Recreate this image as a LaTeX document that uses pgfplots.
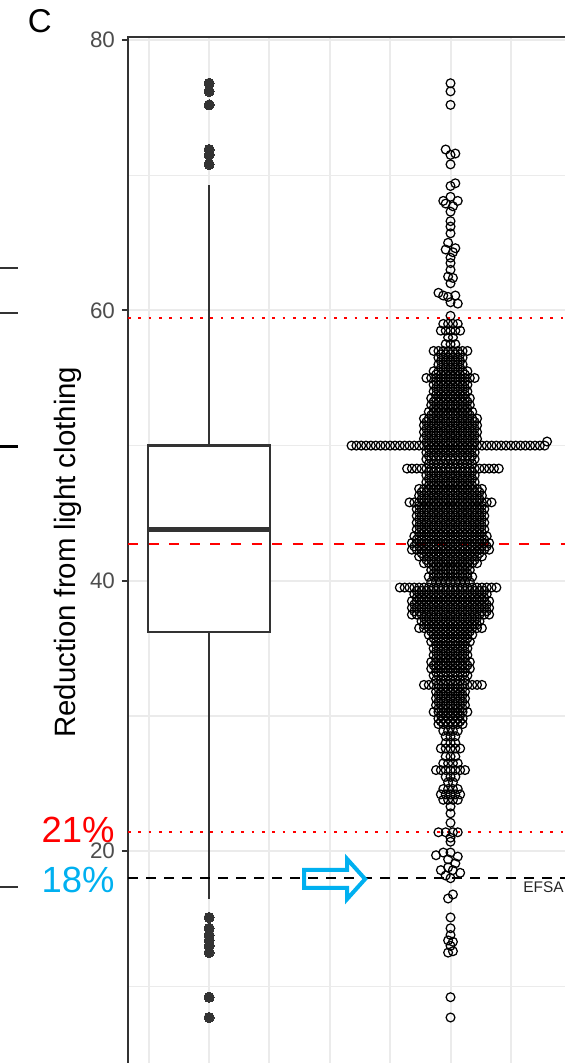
\documentclass[border=0pt]{standalone}
\usepackage{pgfplots}
\pgfplotsset{compat=1.18}
\usepackage{fontspec}
\setmainfont{Liberation Sans}
\definecolor{gridc}{HTML}{EBEBEB}
\definecolor{frame}{HTML}{333333}
\definecolor{ticklab}{HTML}{4D4D4D}
\definecolor{ecyan}{HTML}{00B0F0}
\definecolor{ered}{HTML}{FF0000}
\pgfplotsset{swarm/.style={only marks, mark=o, mark size=2.2pt, mark options={draw=black, line width=0.62pt}}}
\begin{document}
\begin{tikzpicture}
\useasboundingbox (0,0) rectangle (282.5pt,531.5pt);
\clip (0,0) rectangle (282.5pt,531.5pt);
\begin{axis}[
  at={(64pt,-2.26pt)}, anchor=south west,
  x=120.7pt, y=6.76pt,
  xmin=0.664, xmax=2.8, ymin=4.0, ymax=80.24,
  axis line style={draw=frame, line width=1pt},
  xtick={0.75,1,...,2.75}, xticklabels={},
  ytick={20,40,60,80}, minor ytick={10,30,50,70},
  tick pos=left,
  grid=both,
  major grid style={gridc, line width=1pt},
  minor grid style={gridc, line width=0.6pt},
  tick align=outside, major tick length=3pt, minor tick length=0pt,
  tick style={frame, line width=1pt},
  /pgf/number format/assume math mode=true,
  yticklabel style={font=\fontsize{11.2}{13}\selectfont, text=ticklab},
  ylabel={Reduction from light clothing},
  ylabel style={at={(axis description cs:-0.1164,0.5)}, anchor=center, font=\fontsize{14.7}{17}\selectfont},
]
% boxplot: whiskers, box (quartiles), median, outliers
\addplot[frame, line width=1pt] coordinates {(1,50.0) (1,69.3)};
\addplot[frame, line width=1pt] coordinates {(1,36.2) (1,16.5)};
\addplot[draw=frame, fill=white, line width=1.1pt, line join=miter] coordinates {(0.7473,36.2) (1.2527,36.2) (1.2527,50.0) (0.7473,50.0) (0.7473,36.2)} -- cycle;
\addplot[frame, line width=2.2pt] coordinates {(0.7473,43.8) (1.2527,43.8)};
\addplot[only marks, mark=*, mark size=2.55pt, mark options={fill=frame, draw=frame, line width=0pt}] coordinates {
(1,76.8)(1,76.2)(1,75.2)(1,71.9)(1,71.5)(1,70.8)(1,15.1)(1,14.3)(1,13.8)(1,13.4)(1,13.0)(1,12.5)(1,9.2)(1,7.7)};
% dot swarm (main rows)
\addplot[swarm] coordinates {
(2,76.8)(2,76.2)(2,75.2)
(1.98,71.9)(2,71.5)(2.02,71.6)(2,70.8)
(2.02,69.4)(2,69.2)
(1.97,68.1)(2,68.4)(2.03,68.1)(1.98,67.9)(2.01,67.7)(2,67.3)
(2,66.6)(2,66.2)(2,65.7)
(1.99,65.0)(2.02,64.6)(1.98,64.5)(2.01,64.3)
(2,63.9)(2,63.5)
(2,63.0)(1.99,62.5)(2.01,62.4)
(2,62.0)
(1.95,61.3)(1.97,61.1)(1.99,61.0)(2.02,61.1)(2,60.6)(2.03,60.5)
(2,59.6)
(1.97,59)(1.99,59)(2.01,59)(2.03,59)
(1.96,58.5)(1.98,58.5)(2,58.5)(2.02,58.5)(2.04,58.5)
(1.99,58)(2.01,58)
(1.98,57.5)(2,57.5)(2.02,57.5)
(1.93,57)(1.95,57)(1.97,57)(1.99,57)(2.01,57)(2.03,57)(2.05,57)(2.07,57)
(1.95,56.5)(1.97,56.5)(1.99,56.5)(2.01,56.5)(2.03,56.5)(2.05,56.5)
(1.95,56)(1.97,56)(1.99,56)(2.01,56)(2.03,56)(2.05,56)
(1.93,55.5)(1.95,55.5)(1.97,55.5)(1.99,55.5)(2.01,55.5)(2.03,55.5)(2.05,55.5)(2.07,55.5)
(1.9,55)(1.92,55)(1.94,55)(1.96,55)(1.98,55)(2,55)(2.02,55)(2.04,55)(2.06,55)(2.08,55)(2.1,55)
(1.93,54.5)(1.95,54.5)(1.97,54.5)(1.99,54.5)(2.01,54.5)(2.03,54.5)(2.05,54.5)(2.07,54.5)
(1.93,54)(1.95,54)(1.97,54)(1.99,54)(2.01,54)(2.03,54)(2.05,54)(2.07,54)
(1.92,53.5)(1.94,53.5)(1.96,53.5)(1.98,53.5)(2,53.5)(2.02,53.5)(2.04,53.5)(2.06,53.5)(2.08,53.5)
(1.92,53)(1.94,53)(1.96,53)(1.98,53)(2,53)(2.02,53)(2.04,53)(2.06,53)(2.08,53)
(1.91,52.5)(1.93,52.5)(1.95,52.5)(1.97,52.5)(1.99,52.5)(2.01,52.5)(2.03,52.5)(2.05,52.5)(2.07,52.5)(2.09,52.5)
(1.89,52)(1.91,52)(1.93,52)(1.95,52)(1.97,52)(1.99,52)(2.01,52)(2.03,52)(2.05,52)(2.07,52)(2.09,52)(2.11,52)
(1.89,51.5)(1.91,51.5)(1.93,51.5)(1.95,51.5)(1.97,51.5)(1.99,51.5)(2.01,51.5)(2.03,51.5)(2.05,51.5)(2.07,51.5)(2.09,51.5)(2.11,51.5)
(1.89,51)(1.91,51)(1.93,51)(1.95,51)(1.97,51)(1.99,51)(2.01,51)(2.03,51)(2.05,51)(2.07,51)(2.09,51)(2.11,51)
(1.89,50.5)(1.91,50.5)(1.93,50.5)(1.95,50.5)(1.97,50.5)(1.99,50.5)(2.01,50.5)(2.03,50.5)(2.05,50.5)(2.07,50.5)(2.09,50.5)(2.11,50.5)
(1.59,50)(1.61,50)(1.63,50)(1.65,50)(1.67,50)(1.69,50)(1.71,50)(1.73,50)(1.75,50)(1.77,50)(1.79,50)(1.81,50)(1.83,50)(1.85,50)(1.87,50)(1.89,50)(1.91,50)(1.93,50)(1.95,50)(1.97,50)(1.99,50)(2.01,50)(2.03,50)(2.05,50)(2.07,50)(2.09,50)(2.11,50)(2.13,50)(2.15,50)(2.17,50)(2.19,50)(2.21,50)(2.23,50)(2.25,50)(2.27,50)(2.29,50)(2.31,50)(2.33,50)(2.35,50)(2.37,50)(2.39,50)(2.4,50.3)
(1.9,49.5)(1.92,49.5)(1.94,49.5)(1.96,49.5)(1.98,49.5)(2,49.5)(2.02,49.5)(2.04,49.5)(2.06,49.5)(2.08,49.5)(2.1,49.5)
(1.9,49)(1.92,49)(1.94,49)(1.96,49)(1.98,49)(2,49)(2.02,49)(2.04,49)(2.06,49)(2.08,49)(2.1,49)
(1.82,48.3)(1.84,48.3)(1.86,48.3)(1.88,48.3)(1.9,48.3)(1.92,48.3)(1.94,48.3)(1.96,48.3)(1.98,48.3)(2,48.3)(2.02,48.3)(2.04,48.3)(2.06,48.3)(2.08,48.3)(2.1,48.3)(2.12,48.3)(2.14,48.3)(2.16,48.3)(2.18,48.3)(2.2,48.3)
(1.9,47.8)(1.92,47.8)(1.94,47.8)(1.96,47.8)(1.98,47.8)(2,47.8)(2.02,47.8)(2.04,47.8)(2.06,47.8)(2.08,47.8)(2.1,47.8)
(1.9,47.3)(1.92,47.3)(1.94,47.3)(1.96,47.3)(1.98,47.3)(2,47.3)(2.02,47.3)(2.04,47.3)(2.06,47.3)(2.08,47.3)(2.1,47.3)
(1.87,46.8)(1.89,46.8)(1.91,46.8)(1.93,46.8)(1.95,46.8)(1.97,46.8)(1.99,46.8)(2.01,46.8)(2.03,46.8)(2.05,46.8)(2.07,46.8)(2.09,46.8)(2.11,46.8)(2.13,46.8)
(1.87,46.3)(1.89,46.3)(1.91,46.3)(1.93,46.3)(1.95,46.3)(1.97,46.3)(1.99,46.3)(2.01,46.3)(2.03,46.3)(2.05,46.3)(2.07,46.3)(2.09,46.3)(2.11,46.3)(2.13,46.3)
(1.83,45.8)(1.85,45.8)(1.87,45.8)(1.89,45.8)(1.91,45.8)(1.93,45.8)(1.95,45.8)(1.97,45.8)(1.99,45.8)(2.01,45.8)(2.03,45.8)(2.05,45.8)(2.07,45.8)(2.09,45.8)(2.11,45.8)(2.13,45.8)(2.15,45.8)(2.17,45.8)
(1.86,45.3)(1.88,45.3)(1.9,45.3)(1.92,45.3)(1.94,45.3)(1.96,45.3)(1.98,45.3)(2,45.3)(2.02,45.3)(2.04,45.3)(2.06,45.3)(2.08,45.3)(2.1,45.3)(2.12,45.3)(2.14,45.3)
(1.86,44.8)(1.88,44.8)(1.9,44.8)(1.92,44.8)(1.94,44.8)(1.96,44.8)(1.98,44.8)(2,44.8)(2.02,44.8)(2.04,44.8)(2.06,44.8)(2.08,44.8)(2.1,44.8)(2.12,44.8)(2.14,44.8)
(1.86,44.3)(1.88,44.3)(1.9,44.3)(1.92,44.3)(1.94,44.3)(1.96,44.3)(1.98,44.3)(2,44.3)(2.02,44.3)(2.04,44.3)(2.06,44.3)(2.08,44.3)(2.1,44.3)(2.12,44.3)(2.14,44.3)
(1.86,43.8)(1.88,43.8)(1.9,43.8)(1.92,43.8)(1.94,43.8)(1.96,43.8)(1.98,43.8)(2,43.8)(2.02,43.8)(2.04,43.8)(2.06,43.8)(2.08,43.8)(2.1,43.8)(2.12,43.8)(2.14,43.8)
(1.85,43.3)(1.87,43.3)(1.89,43.3)(1.91,43.3)(1.93,43.3)(1.95,43.3)(1.97,43.3)(1.99,43.3)(2.01,43.3)(2.03,43.3)(2.05,43.3)(2.07,43.3)(2.09,43.3)(2.11,43.3)(2.13,43.3)(2.15,43.3)
(1.84,42.8)(1.86,42.8)(1.88,42.8)(1.9,42.8)(1.92,42.8)(1.94,42.8)(1.96,42.8)(1.98,42.8)(2,42.8)(2.02,42.8)(2.04,42.8)(2.06,42.8)(2.08,42.8)(2.1,42.8)(2.12,42.8)(2.14,42.8)(2.16,42.8)
(1.84,42.3)(1.86,42.3)(1.88,42.3)(1.9,42.3)(1.92,42.3)(1.94,42.3)(1.96,42.3)(1.98,42.3)(2,42.3)(2.02,42.3)(2.04,42.3)(2.06,42.3)(2.08,42.3)(2.1,42.3)(2.12,42.3)(2.14,42.3)(2.16,42.3)
(1.87,41.8)(1.89,41.8)(1.91,41.8)(1.93,41.8)(1.95,41.8)(1.97,41.8)(1.99,41.8)(2.01,41.8)(2.03,41.8)(2.05,41.8)(2.07,41.8)(2.09,41.8)(2.11,41.8)(2.13,41.8)
(1.89,41.3)(1.91,41.3)(1.93,41.3)(1.95,41.3)(1.97,41.3)(1.99,41.3)(2.01,41.3)(2.03,41.3)(2.05,41.3)(2.07,41.3)(2.09,41.3)(2.11,41.3)
(1.92,40.8)(1.94,40.8)(1.96,40.8)(1.98,40.8)(2,40.8)(2.02,40.8)(2.04,40.8)(2.06,40.8)(2.08,40.8)
(1.91,40.3)(1.93,40.3)(1.95,40.3)(1.97,40.3)(1.99,40.3)(2.01,40.3)(2.03,40.3)(2.05,40.3)(2.07,40.3)(2.09,40.3)
(1.79,39.5)(1.81,39.5)(1.83,39.5)(1.85,39.5)(1.87,39.5)(1.89,39.5)(1.91,39.5)(1.93,39.5)(1.95,39.5)(1.97,39.5)(1.99,39.5)(2.01,39.5)(2.03,39.5)(2.05,39.5)(2.07,39.5)(2.09,39.5)(2.11,39.5)(2.13,39.5)(2.15,39.5)(2.17,39.5)(2.19,39.5)
(1.85,39)(1.87,39)(1.89,39)(1.91,39)(1.93,39)(1.95,39)(1.97,39)(1.99,39)(2.01,39)(2.03,39)(2.05,39)(2.07,39)(2.09,39)(2.11,39)(2.13,39)(2.15,39)
(1.84,38.5)(1.86,38.5)(1.88,38.5)(1.9,38.5)(1.92,38.5)(1.94,38.5)(1.96,38.5)(1.98,38.5)(2,38.5)(2.02,38.5)(2.04,38.5)(2.06,38.5)(2.08,38.5)(2.1,38.5)(2.12,38.5)(2.14,38.5)(2.16,38.5)
(1.84,38)(1.86,38)(1.88,38)(1.9,38)(1.92,38)(1.94,38)(1.96,38)(1.98,38)(2,38)(2.02,38)(2.04,38)(2.06,38)(2.08,38)(2.1,38)(2.12,38)(2.14,38)(2.16,38)
(1.84,37.5)(1.86,37.5)(1.88,37.5)(1.9,37.5)(1.92,37.5)(1.94,37.5)(1.96,37.5)(1.98,37.5)(2,37.5)(2.02,37.5)(2.04,37.5)(2.06,37.5)(2.08,37.5)(2.1,37.5)(2.12,37.5)(2.14,37.5)(2.16,37.5)
(1.88,37)(1.9,37)(1.92,37)(1.94,37)(1.96,37)(1.98,37)(2,37)(2.02,37)(2.04,37)(2.06,37)(2.08,37)(2.1,37)(2.12,37)
(1.87,36.5)(1.89,36.5)(1.91,36.5)(1.93,36.5)(1.95,36.5)(1.97,36.5)(1.99,36.5)(2.01,36.5)(2.03,36.5)(2.05,36.5)(2.07,36.5)(2.09,36.5)(2.11,36.5)(2.13,36.5)
(1.91,36)(1.93,36)(1.95,36)(1.97,36)(1.99,36)(2.01,36)(2.03,36)(2.05,36)(2.07,36)(2.09,36)
(1.92,35.5)(1.94,35.5)(1.96,35.5)(1.98,35.5)(2,35.5)(2.02,35.5)(2.04,35.5)(2.06,35.5)(2.08,35.5)
(1.93,35)(1.95,35)(1.97,35)(1.99,35)(2.01,35)(2.03,35)(2.05,35)(2.07,35)
(1.93,34.5)(1.95,34.5)(1.97,34.5)(1.99,34.5)(2.01,34.5)(2.03,34.5)(2.05,34.5)(2.07,34.5)
(1.92,34)(1.94,34)(1.96,34)(1.98,34)(2,34)(2.02,34)(2.04,34)(2.06,34)(2.08,34)
(1.92,33.5)(1.94,33.5)(1.96,33.5)(1.98,33.5)(2,33.5)(2.02,33.5)(2.04,33.5)(2.06,33.5)(2.08,33.5)
(1.93,33)(1.95,33)(1.97,33)(1.99,33)(2.01,33)(2.03,33)(2.05,33)(2.07,33)
(1.89,32.3)(1.91,32.3)(1.93,32.3)(1.95,32.3)(1.97,32.3)(1.99,32.3)(2.01,32.3)(2.03,32.3)(2.05,32.3)(2.07,32.3)(2.09,32.3)(2.11,32.3)(2.13,32.3)
(1.94,31.8)(1.96,31.8)(1.98,31.8)(2,31.8)(2.02,31.8)(2.04,31.8)(2.06,31.8)
(1.94,31.3)(1.96,31.3)(1.98,31.3)(2,31.3)(2.02,31.3)(2.04,31.3)(2.06,31.3)
(1.94,30.8)(1.96,30.8)(1.98,30.8)(2,30.8)(2.02,30.8)(2.04,30.8)(2.06,30.8)
(1.93,30.3)(1.95,30.3)(1.97,30.3)(1.99,30.3)(2.01,30.3)(2.03,30.3)(2.05,30.3)(2.07,30.3)
(1.95,29.8)(1.97,29.8)(1.99,29.8)(2.01,29.8)(2.03,29.8)(2.05,29.8)
(1.95,29.4)(1.97,29.4)(1.99,29.4)(2.01,29.4)(2.03,29.4)(2.05,29.4)
(1.97,28.9)(1.99,28.9)(2.01,28.9)(2.03,28.9)
(1.98,28.5)(2,28.5)(2.02,28.5)
(1.98,28)(2,28)(2.02,28)
(1.96,27.6)(1.98,27.6)(2,27.6)(2.02,27.6)(2.04,27.6)
(1.98,27)(2,27)(2.02,27)
(1.97,26.5)(1.99,26.5)(2.01,26.5)(2.03,26.5)
(1.94,26)(1.96,26)(1.98,26)(2,26)(2.02,26)(2.04,26)(2.06,26)
(1.98,25.5)(2,25.5)(2.02,25.5)
(1.99,25.1)(2.01,25.1)
(1.97,24.6)(1.99,24.6)(2.01,24.6)(2.03,24.6)
(1.96,24.2)(1.98,24.2)(2,24.2)(2.02,24.2)(2.04,24.2)
(1.97,23.8)(1.99,23.8)(2.01,23.8)(2.03,23.8)
(2,23.3)(2,22.8)(2,22.1)
(1.95,21.4)(1.98,21.4)(2.01,21.4)(2.03,21.4)
(2,21)(2,20.7)
(1.97,19.9)(2,19.9)(1.94,19.7)(2.03,19.6)(1.99,19.4)(2.02,19.1)
(1.96,18.6)(1.99,18.8)(2.01,18.6)(2.04,18.4)(1.98,18.2)(2,18.0)
(1.99,16.5)(2.01,16.8)
(2,15.1)(2,14.3)(2,13.8)(1.99,13.4)(2.01,13.3)(2,13)(1.99,12.5)(2.01,12.6)(2,9.2)(2,7.7)
};
% dot swarm (rows lying between the main rows)
\addplot[swarm] coordinates {
(1.96,56.75)(1.98,56.75)(2,56.75)(2.02,56.75)(2.04,56.75)
(1.96,56.25)(1.98,56.25)(2,56.25)(2.02,56.25)(2.04,56.25)
(1.96,55.75)(1.98,55.75)(2,55.75)(2.02,55.75)(2.04,55.75)
(1.94,55.25)(1.96,55.25)(1.98,55.25)(2,55.25)(2.02,55.25)(2.04,55.25)(2.06,55.25)
(1.94,54.75)(1.96,54.75)(1.98,54.75)(2,54.75)(2.02,54.75)(2.04,54.75)(2.06,54.75)
(1.94,54.25)(1.96,54.25)(1.98,54.25)(2,54.25)(2.02,54.25)(2.04,54.25)(2.06,54.25)
(1.94,53.75)(1.96,53.75)(1.98,53.75)(2,53.75)(2.02,53.75)(2.04,53.75)(2.06,53.75)
(1.93,53.25)(1.95,53.25)(1.97,53.25)(1.99,53.25)(2.01,53.25)(2.03,53.25)(2.05,53.25)(2.07,53.25)
(1.93,52.75)(1.95,52.75)(1.97,52.75)(1.99,52.75)(2.01,52.75)(2.03,52.75)(2.05,52.75)(2.07,52.75)
(1.92,52.25)(1.94,52.25)(1.96,52.25)(1.98,52.25)(2,52.25)(2.02,52.25)(2.04,52.25)(2.06,52.25)(2.08,52.25)
(1.9,51.75)(1.92,51.75)(1.94,51.75)(1.96,51.75)(1.98,51.75)(2,51.75)(2.02,51.75)(2.04,51.75)(2.06,51.75)(2.08,51.75)(2.1,51.75)
(1.9,51.25)(1.92,51.25)(1.94,51.25)(1.96,51.25)(1.98,51.25)(2,51.25)(2.02,51.25)(2.04,51.25)(2.06,51.25)(2.08,51.25)(2.1,51.25)
(1.9,50.75)(1.92,50.75)(1.94,50.75)(1.96,50.75)(1.98,50.75)(2,50.75)(2.02,50.75)(2.04,50.75)(2.06,50.75)(2.08,50.75)(2.1,50.75)
(1.9,50.25)(1.92,50.25)(1.94,50.25)(1.96,50.25)(1.98,50.25)(2,50.25)(2.02,50.25)(2.04,50.25)(2.06,50.25)(2.08,50.25)(2.1,50.25)
(1.91,49.75)(1.93,49.75)(1.95,49.75)(1.97,49.75)(1.99,49.75)(2.01,49.75)(2.03,49.75)(2.05,49.75)(2.07,49.75)(2.09,49.75)
(1.91,49.25)(1.93,49.25)(1.95,49.25)(1.97,49.25)(1.99,49.25)(2.01,49.25)(2.03,49.25)(2.05,49.25)(2.07,49.25)(2.09,49.25)
(1.91,48.65)(1.93,48.65)(1.95,48.65)(1.97,48.65)(1.99,48.65)(2.01,48.65)(2.03,48.65)(2.05,48.65)(2.07,48.65)(2.09,48.65)
(1.91,48.05)(1.93,48.05)(1.95,48.05)(1.97,48.05)(1.99,48.05)(2.01,48.05)(2.03,48.05)(2.05,48.05)(2.07,48.05)(2.09,48.05)
(1.91,47.55)(1.93,47.55)(1.95,47.55)(1.97,47.55)(1.99,47.55)(2.01,47.55)(2.03,47.55)(2.05,47.55)(2.07,47.55)(2.09,47.55)
(1.91,47.05)(1.93,47.05)(1.95,47.05)(1.97,47.05)(1.99,47.05)(2.01,47.05)(2.03,47.05)(2.05,47.05)(2.07,47.05)(2.09,47.05)
(1.88,46.55)(1.9,46.55)(1.92,46.55)(1.94,46.55)(1.96,46.55)(1.98,46.55)(2,46.55)(2.02,46.55)(2.04,46.55)(2.06,46.55)(2.08,46.55)(2.1,46.55)(2.12,46.55)
(1.88,46.05)(1.9,46.05)(1.92,46.05)(1.94,46.05)(1.96,46.05)(1.98,46.05)(2,46.05)(2.02,46.05)(2.04,46.05)(2.06,46.05)(2.08,46.05)(2.1,46.05)(2.12,46.05)
(1.87,45.55)(1.89,45.55)(1.91,45.55)(1.93,45.55)(1.95,45.55)(1.97,45.55)(1.99,45.55)(2.01,45.55)(2.03,45.55)(2.05,45.55)(2.07,45.55)(2.09,45.55)(2.11,45.55)(2.13,45.55)
(1.87,45.05)(1.89,45.05)(1.91,45.05)(1.93,45.05)(1.95,45.05)(1.97,45.05)(1.99,45.05)(2.01,45.05)(2.03,45.05)(2.05,45.05)(2.07,45.05)(2.09,45.05)(2.11,45.05)(2.13,45.05)
(1.87,44.55)(1.89,44.55)(1.91,44.55)(1.93,44.55)(1.95,44.55)(1.97,44.55)(1.99,44.55)(2.01,44.55)(2.03,44.55)(2.05,44.55)(2.07,44.55)(2.09,44.55)(2.11,44.55)(2.13,44.55)
(1.87,44.05)(1.89,44.05)(1.91,44.05)(1.93,44.05)(1.95,44.05)(1.97,44.05)(1.99,44.05)(2.01,44.05)(2.03,44.05)(2.05,44.05)(2.07,44.05)(2.09,44.05)(2.11,44.05)(2.13,44.05)
(1.87,43.55)(1.89,43.55)(1.91,43.55)(1.93,43.55)(1.95,43.55)(1.97,43.55)(1.99,43.55)(2.01,43.55)(2.03,43.55)(2.05,43.55)(2.07,43.55)(2.09,43.55)(2.11,43.55)(2.13,43.55)
(1.86,43.05)(1.88,43.05)(1.9,43.05)(1.92,43.05)(1.94,43.05)(1.96,43.05)(1.98,43.05)(2,43.05)(2.02,43.05)(2.04,43.05)(2.06,43.05)(2.08,43.05)(2.1,43.05)(2.12,43.05)(2.14,43.05)
(1.85,42.55)(1.87,42.55)(1.89,42.55)(1.91,42.55)(1.93,42.55)(1.95,42.55)(1.97,42.55)(1.99,42.55)(2.01,42.55)(2.03,42.55)(2.05,42.55)(2.07,42.55)(2.09,42.55)(2.11,42.55)(2.13,42.55)(2.15,42.55)
(1.88,42.05)(1.9,42.05)(1.92,42.05)(1.94,42.05)(1.96,42.05)(1.98,42.05)(2,42.05)(2.02,42.05)(2.04,42.05)(2.06,42.05)(2.08,42.05)(2.1,42.05)(2.12,42.05)
(1.9,41.55)(1.92,41.55)(1.94,41.55)(1.96,41.55)(1.98,41.55)(2,41.55)(2.02,41.55)(2.04,41.55)(2.06,41.55)(2.08,41.55)(2.1,41.55)
(1.93,41.05)(1.95,41.05)(1.97,41.05)(1.99,41.05)(2.01,41.05)(2.03,41.05)(2.05,41.05)(2.07,41.05)
(1.93,40.55)(1.95,40.55)(1.97,40.55)(1.99,40.55)(2.01,40.55)(2.03,40.55)(2.05,40.55)(2.07,40.55)
(1.92,39.9)(1.94,39.9)(1.96,39.9)(1.98,39.9)(2,39.9)(2.02,39.9)(2.04,39.9)(2.06,39.9)(2.08,39.9)
(1.86,39.25)(1.88,39.25)(1.9,39.25)(1.92,39.25)(1.94,39.25)(1.96,39.25)(1.98,39.25)(2,39.25)(2.02,39.25)(2.04,39.25)(2.06,39.25)(2.08,39.25)(2.1,39.25)(2.12,39.25)(2.14,39.25)
(1.86,38.75)(1.88,38.75)(1.9,38.75)(1.92,38.75)(1.94,38.75)(1.96,38.75)(1.98,38.75)(2,38.75)(2.02,38.75)(2.04,38.75)(2.06,38.75)(2.08,38.75)(2.1,38.75)(2.12,38.75)(2.14,38.75)
(1.85,38.25)(1.87,38.25)(1.89,38.25)(1.91,38.25)(1.93,38.25)(1.95,38.25)(1.97,38.25)(1.99,38.25)(2.01,38.25)(2.03,38.25)(2.05,38.25)(2.07,38.25)(2.09,38.25)(2.11,38.25)(2.13,38.25)(2.15,38.25)
(1.85,37.75)(1.87,37.75)(1.89,37.75)(1.91,37.75)(1.93,37.75)(1.95,37.75)(1.97,37.75)(1.99,37.75)(2.01,37.75)(2.03,37.75)(2.05,37.75)(2.07,37.75)(2.09,37.75)(2.11,37.75)(2.13,37.75)(2.15,37.75)
(1.89,37.25)(1.91,37.25)(1.93,37.25)(1.95,37.25)(1.97,37.25)(1.99,37.25)(2.01,37.25)(2.03,37.25)(2.05,37.25)(2.07,37.25)(2.09,37.25)(2.11,37.25)
(1.89,36.75)(1.91,36.75)(1.93,36.75)(1.95,36.75)(1.97,36.75)(1.99,36.75)(2.01,36.75)(2.03,36.75)(2.05,36.75)(2.07,36.75)(2.09,36.75)(2.11,36.75)
(1.92,36.25)(1.94,36.25)(1.96,36.25)(1.98,36.25)(2,36.25)(2.02,36.25)(2.04,36.25)(2.06,36.25)(2.08,36.25)
(1.93,35.75)(1.95,35.75)(1.97,35.75)(1.99,35.75)(2.01,35.75)(2.03,35.75)(2.05,35.75)(2.07,35.75)
(1.94,35.25)(1.96,35.25)(1.98,35.25)(2,35.25)(2.02,35.25)(2.04,35.25)(2.06,35.25)
(1.94,34.75)(1.96,34.75)(1.98,34.75)(2,34.75)(2.02,34.75)(2.04,34.75)(2.06,34.75)
(1.94,34.25)(1.96,34.25)(1.98,34.25)(2,34.25)(2.02,34.25)(2.04,34.25)(2.06,34.25)
(1.93,33.75)(1.95,33.75)(1.97,33.75)(1.99,33.75)(2.01,33.75)(2.03,33.75)(2.05,33.75)(2.07,33.75)
(1.94,33.25)(1.96,33.25)(1.98,33.25)(2,33.25)(2.02,33.25)(2.04,33.25)(2.06,33.25)
(1.94,32.65)(1.96,32.65)(1.98,32.65)(2,32.65)(2.02,32.65)(2.04,32.65)(2.06,32.65)
(1.95,32.05)(1.97,32.05)(1.99,32.05)(2.01,32.05)(2.03,32.05)(2.05,32.05)
(1.95,31.55)(1.97,31.55)(1.99,31.55)(2.01,31.55)(2.03,31.55)(2.05,31.55)
(1.95,31.05)(1.97,31.05)(1.99,31.05)(2.01,31.05)(2.03,31.05)(2.05,31.05)
(1.95,30.55)(1.97,30.55)(1.99,30.55)(2.01,30.55)(2.03,30.55)(2.05,30.55)
(1.96,30.05)(1.98,30.05)(2,30.05)(2.02,30.05)(2.04,30.05)
(1.96,29.6)(1.98,29.6)(2,29.6)(2.02,29.6)(2.04,29.6)
};
% reference lines
\addplot[ered, line width=1.35pt, dash pattern=on 1.35pt off 3.8pt] coordinates {(0.664,59.44) (2.8,59.44)};
\addplot[ered, line width=1.4pt, dash pattern=on 5pt off 5.3pt] coordinates {(0.664,42.72) (2.8,42.72)};
\addplot[ered, line width=1.35pt, dash pattern=on 1.35pt off 3.8pt] coordinates {(0.664,21.42) (2.8,21.42)};
\addplot[black, line width=1.4pt, dash pattern=on 5pt off 4pt] coordinates {(0.664,18.02) (2.8,18.02)};
% arrow annotation
\draw[ecyan, line width=2pt] (axis cs:1.3935,18.61) -- (axis cs:1.5717,18.61) -- (axis cs:1.5717,19.42) -- (axis cs:1.6462,17.94) -- (axis cs:1.5717,16.46) -- (axis cs:1.5717,17.28) -- (axis cs:1.3935,17.28) -- cycle;
\end{axis}
% texts outside the axis
\node[anchor=base west, inner sep=0pt, font=\fontsize{16.5}{19}\selectfont] at (13.7pt,515pt) {C};
\node[anchor=base east, inner sep=0pt, text=ered, font=\fontsize{18.2}{21}\selectfont] at (57.5pt,110pt) {21\%};
\node[anchor=base east, inner sep=0pt, text=ecyan, font=\fontsize{18.2}{21}\selectfont] at (57.5pt,85pt) {18\%};
\node[anchor=base west, inner sep=0pt, text=black!85, font=\fontsize{7.7}{9}\selectfont] at (261.5pt,85pt) {EFSA};
% fragments of the neighbouring panel
\draw[frame, line width=0.85pt] (0,397.5pt) -- (9pt,397.5pt);
\draw[frame, line width=0.85pt] (0,375pt) -- (9pt,375pt);
\draw[black, line width=1.5pt] (0,308pt) -- (9pt,308pt);
\draw[frame, line width=0.85pt] (0,88pt) -- (9pt,88pt);
\end{tikzpicture}
\end{document}
